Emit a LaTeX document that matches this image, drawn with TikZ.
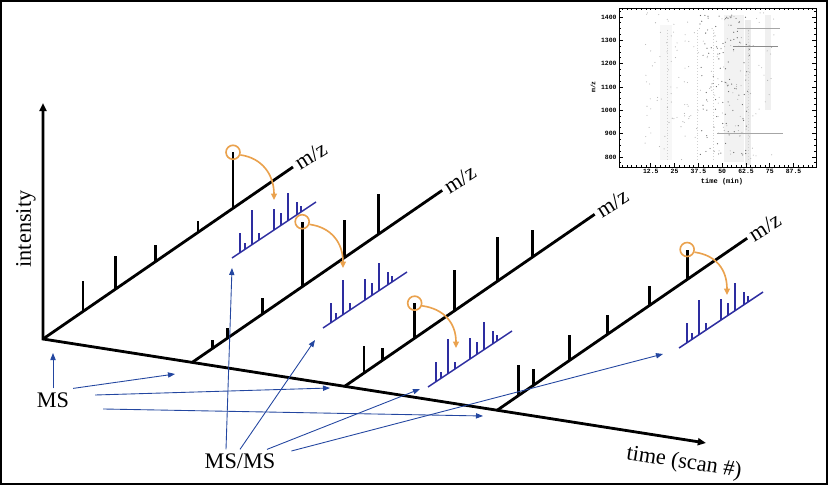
\documentclass[tikz,border=0pt]{standalone}
\usepackage{fontspec}
\setmainfont{Liberation Serif}
\newfontfamily\insetfont{Liberation Mono}
\usetikzlibrary{arrows.meta, calc, positioning}
\definecolor{specblue}{RGB}{45,45,160}
\definecolor{linkblue}{RGB}{35,70,160}
\definecolor{hitorange}{RGB}{234,162,78}

\begin{document}
\begin{tikzpicture}[
            x=0.03cm, y=-0.03cm,
            axes/.style    ={line width=2.4pt, line join=miter,
                             {Triangle[length=7pt,width=6pt]}-{Triangle[length=7pt,width=6pt]}},
            mzaxis/.style  ={line width=2.4pt},
            peak/.style    ={line width=2.4pt},
            msms/.style    ={draw=specblue, line width=1.3pt},
            link/.style    ={draw=linkblue, line width=0.75pt, -{Triangle[length=6pt,width=4.5pt]}},
            ring/.style    ={circle, draw=hitorange, line width=1.4pt, minimum size=0.42cm, inner sep=0pt},
            jump/.style    ={draw=hitorange, line width=1.4pt, -{Triangle[length=5.5pt,width=5pt]}},
            lbl/.style     ={font=\fontsize{19}{22}\selectfont},
            insetlbl/.style={font=\insetfont\bfseries\fontsize{5.5}{6}\selectfont, inner sep=1pt},
            frm/.style     ={line width=0.6pt}
        ]
        \useasboundingbox (0,0) rectangle (828,485);
        \draw[line width=1.4pt] (1,1) rectangle (827,484);

        % main axes
        \coordinate (O) at (43,339);
        \coordinate (I) at (43,103);
        \coordinate (T) at (706,443);
        \draw[axes] (I) -- (O) -- (T);
        \node[lbl, rotate=90] (inten) at (26,229) {intensity};
        \node[lbl, rotate=-9] (timelbl) at (684,463) {time (scan \#)};

        % one m/z axis per scan
        \foreach \k/\f in {1/0, 2/0.225, 3/0.455, 4/0.685} {
            \coordinate (B\k) at ($(O)!\f!(T)$);
            \coordinate (E\k) at ($(B\k)+(250,-172)$);
            \draw[mzaxis] (B\k) -- (E\k);
            \node[lbl, rotate=32, anchor=west] (mz\k) at (E\k) {m/z};
        }

        % peaks
        \foreach \f/\h in {0.16/30, 0.29/33, 0.45/17, 0.62/11}
            \draw[peak] ($(B1)!\f!(E1)$) -- ++(0,-\h);
        \foreach \f/\h in {0.08/9, 0.14/10, 0.28/16, 0.61/37, 0.745/40}
            \draw[peak] ($(B2)!\f!(E2)$) -- ++(0,-\h);
        \foreach \f/\h in {0.077/27, 0.15/13, 0.44/41, 0.61/44, 0.75/27}
            \draw[peak] ($(B3)!\f!(E3)$) -- ++(0,-\h);
        \foreach \f/\h in {0.084/31, 0.144/16, 0.29/25, 0.44/20, 0.61/19}
            \draw[peak] ($(B4)!\f!(E4)$) -- ++(0,-\h);

        % selected precursor peaks
        \draw[peak] ($(B1)!0.76!(E1)$) -- ++(0,-56) node[ring] (c1) {};
        \draw[peak] ($(B2)!0.44!(E2)$) -- ++(0,-65) node[ring] (c2) {};
        \draw[peak] ($(B3)!0.28!(E3)$) -- ++(0,-35) node[ring] (c3) {};
        \draw[peak] ($(B4)!0.76!(E4)$) -- ++(0,-30) node[ring] (c4) {};

        % MS/MS spectra
        \coordinate (S1) at (232,258);
        \coordinate (S2) at (323,328);
        \coordinate (S3) at (428,387);
        \coordinate (S4) at (679,348);
        \foreach \s in {1,...,4} {
            \draw[msms] (S\s) -- ++(84,-56);
            \foreach \dx/\h in {8/20, 13/6, 20/35, 27/7, 42/21, 49/12, 56/28, 65/13, 69/6}
                \draw[msms] (S\s) ++(\dx,{-2*\dx/3}) -- ++(0,-\h);
        }

        % fragmentation arrows
        \coordinate (o1) at (274,200);
        \coordinate (o2) at (343,268);
        \coordinate (o3) at (456,348);
        \coordinate (o4) at (727,295);
        \foreach \k in {1,...,4}
            \draw[jump] (c\k.-20) .. controls +(22,3) and +(0,-25) .. (o\k);

        % labels and pointers
        \node[lbl] (ms)   at (53,400)  {MS};
        \node[lbl] (msms) at (240,461) {MS/MS};

        \coordinate (m1) at (53,353);
        \coordinate (m2) at (175,374);
        \coordinate (m3) at (330,388);
        \coordinate (m4) at (483,416);
        \draw[link] (ms.north) -- (m1);
        \draw[link] (ms.north east) -- (m2);
        \draw[link] ([shift={(22,-5)}]ms.east) -- (m3);
        \draw[link] ([shift={(30,9)}]ms.east) -- (m4);

        \coordinate (n1) at (232,268);
        \coordinate (n2) at (315,340);
        \coordinate (n3) at (420,389);
        \coordinate (n4) at (663,354);
        \draw[link] ([shift={(-14,0)}]msms.north) -- (n1);
        \draw[link] (msms.north) -- (n2);
        \draw[link] ([shift={(27,0)}]msms.north) -- (n3);
        \draw[link] ([shift={(12,-10)}]msms.east) -- (n4);

        % inset: LC-MS map
        \fill[black!3] (660,25) rectangle (672,160);
        \fill[black!5] (724,15) rectangle (744,162);
        \fill[black!8] (745,20) rectangle (751,165);
        \fill[black!6] (765,15) rectangle (771,110);
        \foreach \cx in {667,697,713,748}
            \draw[black!18, line width=0.4pt, dash pattern=on 0.5pt off 2pt] (\cx,30) -- (\cx,160);
        \pgfmathsetseed{11}
        \foreach \i in {1,...,170} {
            \pgfmathsetmacro\px{645+130*rnd}
            \pgfmathsetmacro\py{12+150*rnd}
            \fill[black!30] (\px,\py) circle[radius=0.55];
        }
        \foreach \i in {1,...,110} {
            \pgfmathsetmacro\px{700+50*rnd}
            \pgfmathsetmacro\py{15+140*rnd}
            \fill[black!60] (\px,\py) circle[radius=0.6];
        }
        \draw[black!35, line width=0.5pt] (737,28) -- (780,28);
        \draw[black!45, line width=0.5pt] (733,46) -- (778,46);
        \draw[black!35, line width=0.5pt] (717,133) -- (783,133);

        \draw[frm] (619,8) rectangle (816,167);
        \foreach \t in {-2.5,0,...,97.5}
            \draw[frm] ({627+1.904*\t},167) -- ++(0,-2) ({627+1.904*\t},8) -- ++(0,2);
        \foreach \m in {775,800,...,1425}
            \draw[frm] (619,{17+(1400-\m)*0.23333}) -- ++(2,0) (816,{17+(1400-\m)*0.23333}) -- ++(-2,0);
        \foreach \m in {800,900,...,1400} {
            \draw[frm] (619,{17+(1400-\m)*0.23333}) -- ++(4,0) (816,{17+(1400-\m)*0.23333}) -- ++(-4,0);
            \node[insetlbl, anchor=east] (yl\m) at (618,{17+(1400-\m)*0.23333}) {\m};
        }
        \foreach \t [count=\k] in {12.5,25,37.5,50,62.5,75,87.5} {
            \draw[frm] ({627+1.904*\t},167) -- ++(0,-4);
            \node[insetlbl, anchor=north] (xl\k) at ({627+1.904*\t},168) {\t};
        }
        \node[insetlbl, rotate=90] (insety) at (593,87) {m/z};
        \node[insetlbl, font=\insetfont\bfseries\fontsize{6}{7}\selectfont] (insetx) at (722,182) {time (min)};
\end{tikzpicture}
\end{document}
